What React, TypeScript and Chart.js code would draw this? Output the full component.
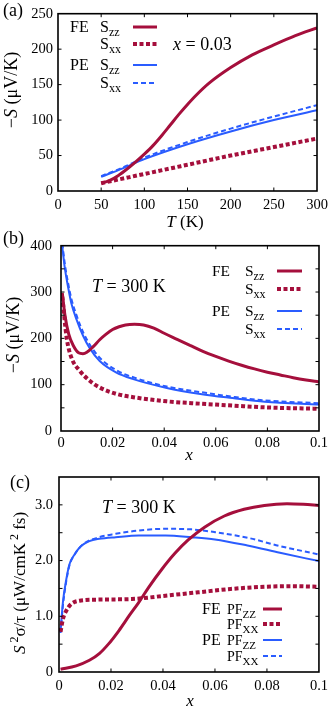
import React, { useEffect, useRef } from "react";
import { Chart, registerables } from "chart.js";
Chart.register(...registerables);

// ---------- Panel (a): -S vs T at x = 0.03 ----------
const aFEzzT = [50, 60, 70, 80, 90, 100, 110, 120, 130, 140, 150, 160, 175, 200, 225, 250, 275, 300];
const aFEzzS = [11, 15, 22, 31, 41, 52, 64, 78, 93, 108, 122, 135, 152, 174, 192, 206, 219, 230];
const aFExxT = [50, 100, 150, 200, 250, 300];
const aFExxS = [11, 24, 37, 50, 62, 74];
const aPEzzT = [50, 75, 100, 150, 200, 250, 300];
const aPEzzS = [20, 32, 45, 66, 84, 100, 114];
const aPExxT = [50, 75, 100, 150, 200, 250, 300];
const aPExxS = [21, 33, 47, 69, 88, 105, 121];

// ---------- Panel (b): -S vs x at T = 300 K ----------
const bFEzzX = [0.0005, 0.0015, 0.003, 0.0048, 0.0068, 0.0085, 0.01, 0.0125, 0.015, 0.0175, 0.02, 0.0225, 0.025, 0.0285, 0.032, 0.036, 0.04, 0.045, 0.05, 0.055, 0.06, 0.065, 0.07, 0.075, 0.08, 0.085, 0.09, 0.095, 0.1];
const bFEzzS = [298, 251, 209, 184, 169, 167, 170, 182, 197, 209, 219, 225, 229, 230.5, 229, 222, 211, 198, 185, 172, 161, 151, 142, 134, 127, 121, 115, 110, 106];
const bFExxX = [0.0005, 0.0022, 0.004, 0.0073, 0.011, 0.015, 0.0215, 0.028, 0.041, 0.054, 0.0665, 0.079, 0.1];
const bFExxS = [290, 201, 159, 130, 109, 94, 80, 73, 64, 59, 55, 51, 48];
const bPEzzX = [0.0005, 0.0015, 0.0028, 0.004, 0.006, 0.0086, 0.011, 0.015, 0.0215, 0.028, 0.041, 0.054, 0.0665, 0.079, 0.1];
const bPEzzS = [398, 351, 309, 276, 241, 205, 180, 151, 126, 112, 93, 80, 71, 63, 57];
const bPExxX = [0.0005, 0.0015, 0.0028, 0.004, 0.006, 0.0086, 0.011, 0.015, 0.0215, 0.028, 0.041, 0.054, 0.0665, 0.079, 0.1];
const bPExxS = [405, 360, 318, 286, 250, 213, 188, 158, 131, 116, 96, 84, 74, 66, 60];

// ---------- Panel (c): S^2 sigma / tau vs x at T = 300 K ----------
const cFEzzX = [0.0006, 0.0066, 0.0117, 0.0155, 0.019, 0.023, 0.027, 0.0307, 0.0345, 0.0395, 0.0446, 0.0497, 0.056, 0.0636, 0.0712, 0.079, 0.0877, 0.094, 0.1];
const cFEzzV = [0.05, 0.11, 0.21, 0.33, 0.5, 0.74, 1.01, 1.25, 1.52, 1.84, 2.13, 2.37, 2.6, 2.8, 2.92, 2.99, 3.02, 3.01, 2.99];
const cFExxX = [0.0006, 0.0015, 0.0028, 0.0047, 0.0079, 0.0155, 0.028, 0.041, 0.0535, 0.066, 0.079, 0.09, 0.1];
const cFExxV = [0.72, 0.95, 1.1, 1.22, 1.28, 1.3, 1.31, 1.37, 1.43, 1.49, 1.53, 1.54, 1.53];
const cPEzzX = [0.0006, 0.0015, 0.0028, 0.004, 0.006, 0.0085, 0.0117, 0.0155, 0.0218, 0.0307, 0.041, 0.051, 0.06, 0.0725, 0.085, 0.1];
const cPEzzV = [0.72, 1.25, 1.66, 1.93, 2.11, 2.26, 2.35, 2.39, 2.42, 2.45, 2.45, 2.42, 2.38, 2.27, 2.14, 1.99];
const cPExxX = [0.0006, 0.0015, 0.0028, 0.004, 0.006, 0.0092, 0.0155, 0.0218, 0.0307, 0.041, 0.051, 0.06, 0.0725, 0.085, 0.1];
const cPExxV = [0.7, 1.19, 1.63, 1.91, 2.11, 2.29, 2.42, 2.48, 2.54, 2.57, 2.56, 2.51, 2.41, 2.26, 2.11];

const FONT = '"Liberation Serif", "Times New Roman", serif';
const RED = "#a50f3c";
const BLUE = "#2a5cff";

Chart.defaults.font.family = FONT;
Chart.defaults.color = "#000";

type Style = { color: string; width: number; dash: number[] };
const FE_ZZ: Style = { color: RED, width: 3, dash: [] };
const FE_XX: Style = { color: RED, width: 4, dash: [4, 2.5] };
const PE_ZZ: Style = { color: BLUE, width: 2, dash: [] };
const PE_XX: Style = { color: BLUE, width: 2, dash: [5, 3] };

const pts = (xs: number[], ys: number[]) => xs.map((x, i) => ({ x, y: ys[i] }));

const ds = (xs: number[], ys: number[], s: Style) => ({
  data: pts(xs, ys),
  borderColor: s.color,
  backgroundColor: s.color,
  borderWidth: s.width,
  borderDash: s.dash,
  borderCapStyle: "butt",
  borderJoinStyle: "round",
  pointRadius: 0,
  fill: false,
  cubicInterpolationMode: "monotone",
});

type Seg = { t: string; it?: boolean; sz?: number; dy?: number };

function drawRich(ctx: CanvasRenderingContext2D, segs: Seg[], x: number, y: number, size: number, align: "left" | "center" | "right", rot = 0) {
  ctx.save();
  ctx.translate(x, y);
  ctx.rotate(rot);
  const fonts = segs.map((s) => `${s.it ? "italic " : ""}${s.sz ?? size}px ${FONT}`);
  const widths = segs.map((s, i) => {
    ctx.font = fonts[i];
    return ctx.measureText(s.t).width;
  });
  const total = widths.reduce((a, b) => a + b, 0);
  let cx = align === "left" ? 0 : align === "center" ? -total / 2 : -total;
  ctx.textBaseline = "alphabetic";
  ctx.textAlign = "left";
  ctx.fillStyle = "#000";
  segs.forEach((s, i) => {
    ctx.font = fonts[i];
    ctx.fillText(s.t, cx, s.dy ?? 0);
    cx += widths[i];
  });
  ctx.restore();
}

function sample(ctx: CanvasRenderingContext2D, x1: number, x2: number, y: number, s: Style) {
  ctx.save();
  ctx.beginPath();
  ctx.strokeStyle = s.color;
  ctx.lineWidth = s.width;
  ctx.lineCap = "butt";
  ctx.setLineDash(s.dash);
  ctx.moveTo(x1, y);
  ctx.lineTo(x2, y);
  ctx.stroke();
  ctx.restore();
}

const framePlugin = {
  id: "frame",
  afterDatasetsDraw(chart: any) {
    const { ctx, chartArea: a, scales } = chart;
    ctx.save();
    ctx.strokeStyle = "#000";
    ctx.setLineDash([]);
    ctx.lineWidth = 1;
    const L = 3.5;
    const xs = scales.x;
    const ys = scales.y;
    xs.ticks.forEach((t: any) => {
      const p = xs.getPixelForValue(t.value);
      if (p <= a.left + 1 || p >= a.right - 1) return;
      ctx.beginPath();
      ctx.moveTo(p, a.bottom);
      ctx.lineTo(p, a.bottom - L);
      ctx.moveTo(p, a.top);
      ctx.lineTo(p, a.top + L);
      ctx.stroke();
    });
    ys.ticks.forEach((t: any) => {
      const p = ys.getPixelForValue(t.value);
      if (p <= a.top + 1 || p >= a.bottom - 1) return;
      ctx.beginPath();
      ctx.moveTo(a.left, p);
      ctx.lineTo(a.left + L, p);
      ctx.moveTo(a.right, p);
      ctx.lineTo(a.right - L, p);
      ctx.stroke();
    });
    ctx.lineWidth = 1.6;
    ctx.strokeRect(a.left, a.top, a.right - a.left, a.bottom - a.top);
    ctx.restore();
  },
};

type PanelDef = {
  datasets: any[];
  x: { min: number; max: number; step: number; fmt: (v: number) => string; pad: number };
  y: { min: number; max: number; step: number; fmt: (v: number) => string; pad: number };
  layout: { top: number; right: number; yWidth: number; xHeight: number };
  decor: (ctx: CanvasRenderingContext2D, a: any) => void;
};

function buildConfig(p: PanelDef): any {
  const tickFont = { family: FONT, size: 14.5, style: "normal" as const };
  return {
    type: "line",
    data: { datasets: p.datasets },
    options: {
      responsive: false,
      animation: false,
      layout: { padding: { left: 0, right: p.layout.right, top: p.layout.top, bottom: 0 } },
      plugins: { legend: { display: false }, tooltip: { enabled: false } },
      scales: {
        x: {
          type: "linear",
          min: p.x.min,
          max: p.x.max,
          grid: { display: false, drawTicks: false },
          border: { display: false },
          ticks: { stepSize: p.x.step, autoSkip: false, maxRotation: 0, color: "#000", font: tickFont, padding: p.x.pad, callback: (v: any) => p.x.fmt(Number(v)) },
          afterFit: (s: any) => { s.height = p.layout.xHeight; },
        },
        y: {
          type: "linear",
          min: p.y.min,
          max: p.y.max,
          grid: { display: false, drawTicks: false },
          border: { display: false },
          ticks: { stepSize: p.y.step, autoSkip: false, color: "#000", font: tickFont, padding: p.y.pad, callback: (v: any) => p.y.fmt(Number(v)) },
          afterFit: (s: any) => { s.width = p.layout.yWidth; },
        },
      },
    },
    plugins: [
      framePlugin,
      {
        id: "decor",
        afterDraw(chart: any) {
          const ctx = chart.ctx;
          ctx.save();
          p.decor(ctx, chart.chartArea);
          ctx.restore();
        },
      },
    ],
  };
}

const fmtX = (v: number) => (Math.abs(v) < 1e-9 ? "0" : Math.abs(v - 0.1) < 1e-9 ? "0.1" : v.toFixed(2));

const panelA: PanelDef = {
  datasets: [ds(aFEzzT, aFEzzS, FE_ZZ), ds(aFExxT, aFExxS, FE_XX), ds(aPEzzT, aPEzzS, PE_ZZ), ds(aPExxT, aPExxS, PE_XX)],
  x: { min: 0, max: 300, step: 50, fmt: (v) => String(Math.round(v)), pad: 5 },
  y: { min: 0, max: 250, step: 50, fmt: (v) => String(Math.round(v)), pad: 5 },
  layout: { top: 8, right: 16, yWidth: 58, xHeight: 41 },
  decor: (ctx, a) => {
    drawRich(ctx, [{ t: "(a)" }], 3, 16, 18, "left");
    drawRich(ctx, [{ t: "−" }, { t: "S", it: true }, { t: " (μV/K)" }], 17, 90, 18, "center", -Math.PI / 2);
    drawRich(ctx, [{ t: "T", it: true }, { t: " (K)" }], 185, 227, 17, "center");
    drawRich(ctx, [{ t: "x", it: true }, { t: " = 0.03" }], 173, 50, 18, "left");
    const rows = [27, 44, 65, 83];
    const styles = [FE_ZZ, FE_XX, PE_ZZ, PE_XX];
    const labels = ["FE", "", "PE", ""];
    const subs = ["zz", "xx", "zz", "xx"];
    rows.forEach((y, i) => {
      if (labels[i]) drawRich(ctx, [{ t: labels[i] }], 70, y + 5, 16, "left");
      drawRich(ctx, [{ t: "S" }, { t: subs[i], sz: 12, dy: 4 }], 100, y + 5, 16, "left");
      sample(ctx, 133, 157, y, styles[i]);
    });
  },
};

const panelB: PanelDef = {
  datasets: [ds(bFEzzX, bFEzzS, FE_ZZ), ds(bFExxX, bFExxS, FE_XX), ds(bPEzzX, bPEzzS, PE_ZZ), ds(bPExxX, bPExxS, PE_XX)],
  x: { min: 0, max: 0.1, step: 0.02, fmt: fmtX, pad: 3 },
  y: { min: 0, max: 400, step: 50, fmt: (v) => (Math.round(v) % 100 === 0 ? String(Math.round(v)) : ""), pad: 9 },
  layout: { top: 16, right: 14, yWidth: 61, xHeight: 31 },
  decor: (ctx, a) => {
    drawRich(ctx, [{ t: "(b)" }], 3, 16, 18, "left");
    drawRich(ctx, [{ t: "−" }, { t: "S", it: true }, { t: " (μV/K)" }], 19, 107, 18, "center", -Math.PI / 2);
    drawRich(ctx, [{ t: "x", it: true }], 189, 232, 17, "center");
    drawRich(ctx, [{ t: "T", it: true }, { t: " = 300 K" }], 92, 64, 18, "left");
    const rows = [43, 61, 83, 101];
    const styles = [FE_ZZ, FE_XX, PE_ZZ, PE_XX];
    const labels = ["FE", "", "PE", ""];
    const subs = ["zz", "xx", "zz", "xx"];
    rows.forEach((y, i) => {
      if (labels[i]) drawRich(ctx, [{ t: labels[i] }], 212, y + 5, 15.5, "left");
      drawRich(ctx, [{ t: "S" }, { t: subs[i], sz: 12, dy: 4 }], 245, y + 5, 15.5, "left");
      sample(ctx, 277, 302, y, styles[i]);
    });
  },
};

const panelC: PanelDef = {
  datasets: [ds(cFEzzX, cFEzzV, FE_ZZ), ds(cFExxX, cFExxV, FE_XX), ds(cPEzzX, cPEzzV, PE_ZZ), ds(cPExxX, cPExxV, PE_XX)],
  x: { min: 0, max: 0.1, step: 0.02, fmt: fmtX, pad: 5 },
  y: {
    min: 0,
    max: 3.5,
    step: 0.5,
    fmt: (v) => (Math.abs(v - Math.round(v)) < 1e-9 && v < 3.4 ? (Math.abs(v) < 1e-9 ? "0" : v.toFixed(1)) : ""),
    pad: 6,
  },
  layout: { top: 17, right: 11, yWidth: 59, xHeight: 39 },
  decor: (ctx, a) => {
    drawRich(ctx, [{ t: "(c)" }], 10, 28, 18, "left");
    drawRich(
      ctx,
      [{ t: "S", it: true }, { t: " 2", sz: 12, dy: -7 }, { t: "σ/τ (μW/cmK" }, { t: " 2", sz: 12, dy: -7 }, { t: " fs)" }],
      25, 123, 17, "center", -Math.PI / 2
    );
    drawRich(ctx, [{ t: "x", it: true }], 190, 246, 17, "center");
    drawRich(ctx, [{ t: "T", it: true }, { t: " = 300 K" }], 102, 53, 18, "left");
    const rows = [149, 164, 180, 196];
    const styles = [FE_ZZ, FE_XX, PE_ZZ, PE_XX];
    const labels = ["FE", "", "PE", ""];
    const subs = ["ZZ", "XX", "ZZ", "XX"];
    rows.forEach((y, i) => {
      if (labels[i]) drawRich(ctx, [{ t: labels[i] }], 202, y + 5, 16, "left");
      drawRich(ctx, [{ t: "PF" }, { t: subs[i], sz: 11, dy: 4 }], 227, y + 5, 14, "left");
      sample(ctx, 263, 282, y, styles[i]);
    });
  },
};

function Panel({ top, height, def }: { top: number; height: number; def: PanelDef }) {
  const ref = useRef<HTMLCanvasElement>(null);
  useEffect(() => {
    const chart = new Chart(ref.current as HTMLCanvasElement, buildConfig(def));
    return () => chart.destroy();
  }, [def]);
  return (
    <canvas
      ref={ref}
      width={333}
      height={height}
      style={{ position: "absolute", left: 0, top, width: 333, height }}
    />
  );
}

export default function App() {
  return (
    <div style={{ position: "absolute", left: 0, top: 0, width: 333, height: 711, background: "#fff", overflow: "hidden" }}>
      <Panel top={0} height={232} def={panelA} />
      <Panel top={228} height={234} def={panelB} />
      <Panel top={460} height={251} def={panelC} />
    </div>
  );
}
